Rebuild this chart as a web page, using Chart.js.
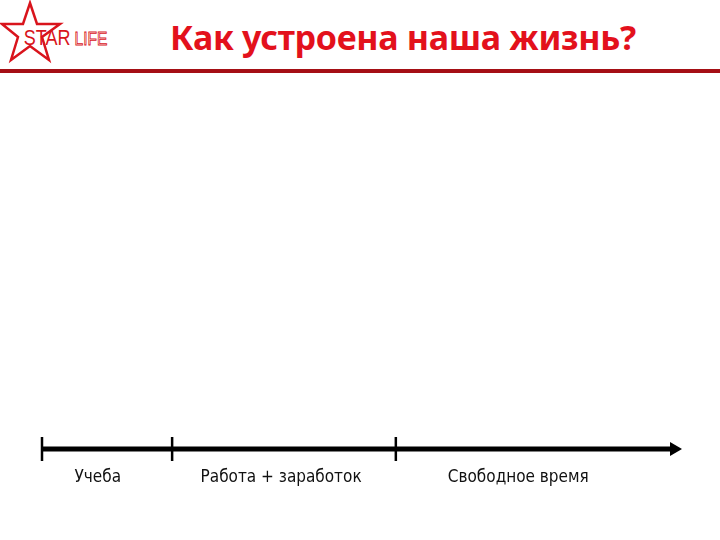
<!DOCTYPE html>
<html><head><meta charset="utf-8">
<script src="https://cdn.jsdelivr.net/npm/chart.js@4"></script>
<style>
body{margin:0;width:720px;height:540px;background:#fff;overflow:hidden;position:relative;font-family:"Liberation Sans",sans-serif}
#title{position:absolute;left:170px;top:14px;font:bold 34px "Noto Sans",sans-serif;color:#e3111c;white-space:nowrap;letter-spacing:-0.3px}
#rule{position:absolute;left:0;top:69px;width:720px;height:4px;background:#a50f15}
#logo{position:absolute;left:0;top:0}
#c{position:absolute;left:0;top:0}
</style></head><body>
<svg id="logo" width="140" height="66" viewBox="0 0 140 66">
<polygon points="30,3 37,24 60,24 42,37 49,60 30,46 11,60 18,37 2,24 23,24" fill="none" stroke="#d9141c" stroke-width="2.5"/>
<g transform="scale(0.82,1)">
<text x="29" y="45" font-family="Liberation Sans" font-size="22" fill="#d9141c">STAR</text>
<text x="91" y="45" font-family="Liberation Sans" font-size="19" fill="none" stroke="#d9141c" stroke-width="0.9">LIFE</text>
</g>
</svg>
<div id="title">Как устроена наша жизнь?</div>
<div id="rule"></div>
<canvas id="c" width="720" height="540"></canvas>
<script>
const categories=["Учеба","Работа + заработок","Свободное время"];
const boundaries=[0,20.3,55.2];
const axisEnd=[0,98.6];
const labelPos=[8.7,37.3,74.3];
const labelPlugin={id:'lbl',afterDatasetsDraw(ch){const c=ch.ctx,x=ch.scales.x,y=ch.scales.y;c.save();c.font='17px "DejaVu Sans Condensed","Liberation Sans",sans-serif';c.fillStyle='#111';c.textAlign='center';c.textBaseline='middle';categories.forEach((t,i)=>c.fillText(t,x.getPixelForValue(labelPos[i]),y.getPixelForValue(0)+29));c.restore();}};
new Chart(document.getElementById('c'),{type:'scatter',
data:{datasets:[
{data:axisEnd.map(v=>({x:v,y:0})),showLine:true,clip:false,borderColor:'#000',borderWidth:5,pointStyle:['line','triangle'],rotation:90,pointRadius:[0,8],backgroundColor:'#000',pointBorderWidth:0},
{data:boundaries.map(v=>({x:v,y:0})),clip:false,pointStyle:'line',rotation:90,pointRadius:12,borderColor:'#000',borderWidth:2.5}
]},
options:{animation:false,responsive:false,events:[],layout:{padding:{left:42,right:37,top:400,bottom:42}},
plugins:{legend:{display:false},tooltip:{enabled:false}},
scales:{x:{type:'linear',min:0,max:100,display:false},y:{min:-1,max:1,display:false}}},
plugins:[labelPlugin]});
</script></body></html>
